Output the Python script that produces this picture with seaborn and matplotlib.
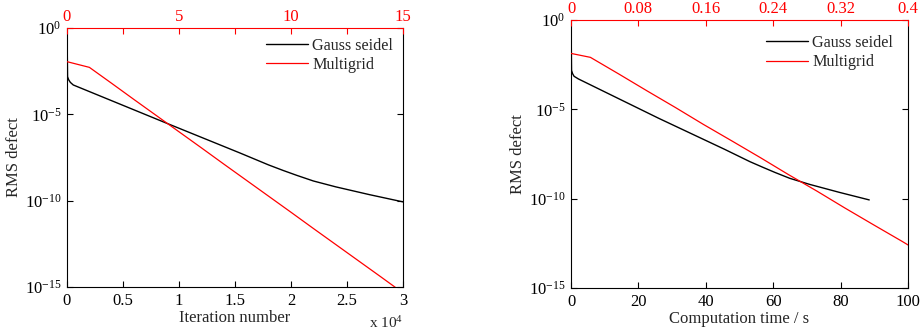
import numpy as np
import pandas as pd
import matplotlib
matplotlib.use("Agg")
import matplotlib.pyplot as plt
from matplotlib.ticker import FixedLocator, FuncFormatter, LogFormatterSciNotation, NullLocator
import seaborn as sns

# Gauss-Seidel convergence history (log10 of RMS defect)
gs_iterations = [0, 50, 150, 300, 560, 8840, 15450, 18000, 19300, 20500, 22000,
                 24000, 27000, 30000]
gs_seconds = [0, 0.15, 0.45, 0.9, 2.2, 26.0, 45.6, 53.1, 57.0, 60.5, 64.9,
              70.8, 79.7, 88.5]
gs_log_defect = [0.0, -2.82, -3.0, -3.15, -3.3, -5.5, -7.24, -7.93, -8.25, -8.53,
                 -8.86, -9.2, -9.65, -10.07]

# Multigrid convergence history per cycle
mg_cycles = [0, 1, 2, 3, 4, 5, 6, 7, 8, 9, 10, 11, 12, 13, 14, 15]
mg_log_defect = [-1.95, -2.28, -3.21, -4.15, -5.08, -6.01, -6.94, -7.88, -8.81,
                 -9.74, -10.67, -11.61, -12.54, -13.47, -14.40, -15.34]
mg_seconds = [0, 0.023, 0.057, 0.090, 0.124, 0.157, 0.191, 0.225, 0.258, 0.292,
              0.325, 0.359, 0.393, 0.426]
mg_time_log_defect = [-1.87, -2.09, -3.03, -3.96, -4.90, -5.84, -6.77, -7.71,
                      -8.65, -9.58, -10.52, -11.46, -12.39, -13.33]

bottom_ticks_iter = [0, 5000, 10000, 15000, 20000, 25000, 30000]
top_ticks_iter = [0, 5, 10, 15]
top_minor_iter = [2.5, 7.5, 12.5]
bottom_ticks_time = [0, 20, 40, 60, 80, 100]
top_ticks_time = [0, 0.08, 0.16, 0.24, 0.32, 0.4]
y_ticks = [1e0, 1e-5, 1e-10, 1e-15]

sns.set_style("ticks")
plt.rcParams["font.family"] = ["Liberation Serif", "DejaVu Serif"]
plt.rcParams["mathtext.fontset"] = "custom"
plt.rcParams["mathtext.rm"] = "Liberation Serif"
plt.rcParams["mathtext.it"] = "Liberation Serif:italic"
plt.rcParams["font.size"] = 12
plt.rcParams["axes.linewidth"] = 0.8

RED = "#ff0000"
fig = plt.figure(figsize=(9.24, 3.34), dpi=100)
ax_l = fig.add_axes([0.0725, 0.1407, 0.3636, 0.7755])
ax_r = fig.add_axes([0.618, 0.1377, 0.3647, 0.8024])


def style_panel(ax, top, bottom_ticks, top_major, top_minor, xlim, toplim, fmt):
    ax.set_yscale("log")
    ax.set_ylim(1e-15, 1e0)
    ax.yaxis.set_major_locator(FixedLocator(y_ticks))
    ax.yaxis.set_minor_locator(NullLocator())
    ax.yaxis.set_major_formatter(LogFormatterSciNotation())
    ax.set_xlim(*xlim)
    ax.xaxis.set_major_locator(FixedLocator(bottom_ticks))
    ax.xaxis.set_minor_locator(NullLocator())
    if fmt is not None:
        ax.xaxis.set_major_formatter(fmt)
    ax.tick_params(axis="both", which="both", direction="in", length=4, width=0.8,
                   labelsize=12, colors="black", pad=4)
    ax.tick_params(axis="y", right=True, left=True)
    ax.tick_params(axis="x", top=False, bottom=True)
    ax.spines["top"].set_visible(False)
    for s in ("left", "right", "bottom"):
        ax.spines[s].set_color("black")
    ax.set_ylabel("RMS defect", fontsize=12, labelpad=2)

    top.set_xlim(*toplim)
    top.xaxis.set_major_locator(FixedLocator(top_major))
    if top_minor:
        top.xaxis.set_minor_locator(FixedLocator(top_minor))
    else:
        top.xaxis.set_minor_locator(NullLocator())
    top.xaxis.set_major_formatter(FuncFormatter(lambda v, p: f"{v:g}"))
    top.tick_params(axis="x", which="both", direction="in", length=4, width=0.8,
                    colors=RED, labelcolor=RED, labelsize=12, pad=2)
    top.spines["top"].set_color(RED)
    for s in ("left", "right", "bottom"):
        top.spines[s].set_visible(False)
    top.set_xlabel("")
    top.set_ylabel("")


def draw(ax, gs_x, mg_x, mg_y, xlim, toplim, bottom_ticks, top_major, top_minor, fmt, xlabel,
         legend_anchor):
    top = ax.twiny()
    gs_df = pd.DataFrame({"x": gs_x, "defect": np.power(10.0, gs_log_defect)})
    mg_df = pd.DataFrame({"x": mg_x, "defect": np.power(10.0, mg_y)})
    sns.lineplot(data=gs_df, x="x", y="defect", ax=ax, color="black", linewidth=1.0,
                 label="Gauss seidel", legend=False)
    sns.lineplot(data=mg_df, x="x", y="defect", ax=top, color=RED, linewidth=0.9,
                 label="Multigrid", legend=False)
    style_panel(ax, top, bottom_ticks, top_major, top_minor, xlim, toplim, fmt)
    ax.set_xlabel(xlabel, fontsize=12, labelpad=1)
    handles = ax.get_lines()[:1] + top.get_lines()[:1]
    top.legend(handles, ["Gauss seidel", "Multigrid"], loc="upper right",
               bbox_to_anchor=legend_anchor, frameon=False, fontsize=11.6,
               handlelength=2.6, handletextpad=0.3, labelspacing=0.2, borderaxespad=0.2)
    return top


iter_fmt = FuncFormatter(lambda v, p: f"{v / 1e4:g}")
draw(ax_l, gs_iterations, mg_cycles, mg_log_defect, (0, 30000), (0, 15),
     bottom_ticks_iter, top_ticks_iter, top_minor_iter, iter_fmt, "Iteration number",
     (1.0, 1.0))
fig.text(403 / 924, 1 - 323 / 334, r"x 10$^{4}$", ha="right", va="center", fontsize=11)

draw(ax_r, gs_seconds, mg_seconds, mg_time_log_defect, (0, 100), (0, 0.4),
     bottom_ticks_time, top_ticks_time, None, None, "Computation time / s",
     (0.985, 0.98))

fig.savefig("out.png", dpi=100)
